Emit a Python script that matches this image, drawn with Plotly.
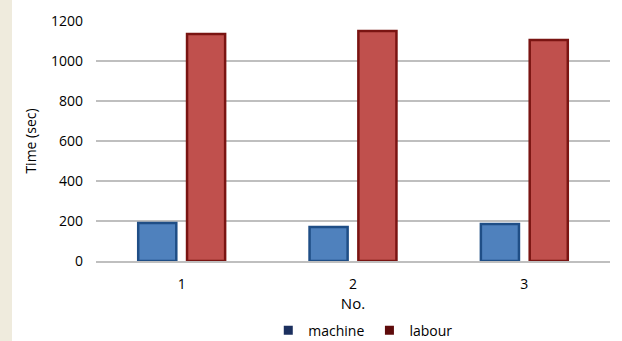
import plotly.graph_objects as go

categories = ["1", "2", "3"]
machine = [190, 170, 185]
labour = [1135, 1150, 1105]

fig = go.Figure()
fig.add_trace(go.Bar(x=categories, y=machine, name="machine", showlegend=False,
                     marker=dict(color="#4F81BD", line=dict(color="#1F4E86", width=2.5))))
fig.add_trace(go.Bar(x=categories, y=labour, name="labour", showlegend=False,
                     marker=dict(color="#C0504D", line=dict(color="#7A1412", width=2.5))))
# legend entries (solid dark squares as in the reference)
fig.add_trace(go.Scatter(x=[None], y=[None], mode="markers", name="machine",
                         marker=dict(symbol="square", size=9, color="#1B2F5E")))
fig.add_trace(go.Scatter(x=[None], y=[None], mode="markers", name="labour",
                         marker=dict(symbol="square", size=9, color="#5E0B0B")))

font = "Open Sans, Liberation Sans, sans-serif"
fig.update_layout(
    width=622, height=341,
    margin=dict(l=96, r=12, t=21, b=80, autoexpand=False),
    paper_bgcolor="#FFFFFF", plot_bgcolor="#FFFFFF",
    barmode="group", bargap=0.43, bargroupgap=0.22,
    font=dict(family=font, size=13, color="#000000"),
    showlegend=True,
    legend=dict(orientation="h", x=0.52, xanchor="center", y=-0.29, yanchor="middle",
                font=dict(size=14), itemwidth=30, traceorder="normal", tracegroupgap=0),
    xaxis=dict(title=dict(text="No.", font=dict(size=15), standoff=6),
               showgrid=False, showline=True, linecolor="#BFBFBF", linewidth=2,
               ticks="", ticklabelstandoff=9, tickfont=dict(size=14), automargin=False),
    yaxis=dict(title=dict(text="Time (sec)", font=dict(size=14), standoff=11),
               range=[0, 1200], dtick=200, showgrid=True, gridcolor="#BFBFBF", gridwidth=1.5,
               zeroline=False, showline=False, ticks="", ticklabelstandoff=12,
               tickfont=dict(size=14), automargin=False),
)
fig.add_shape(type="rect", xref="paper", yref="paper", x0=-96/514, x1=-84/514, y0=-80/240, y1=1+21/240,
              fillcolor="#EFEBDD", line=dict(width=0), layer="below")
fig.write_html("out.html")
